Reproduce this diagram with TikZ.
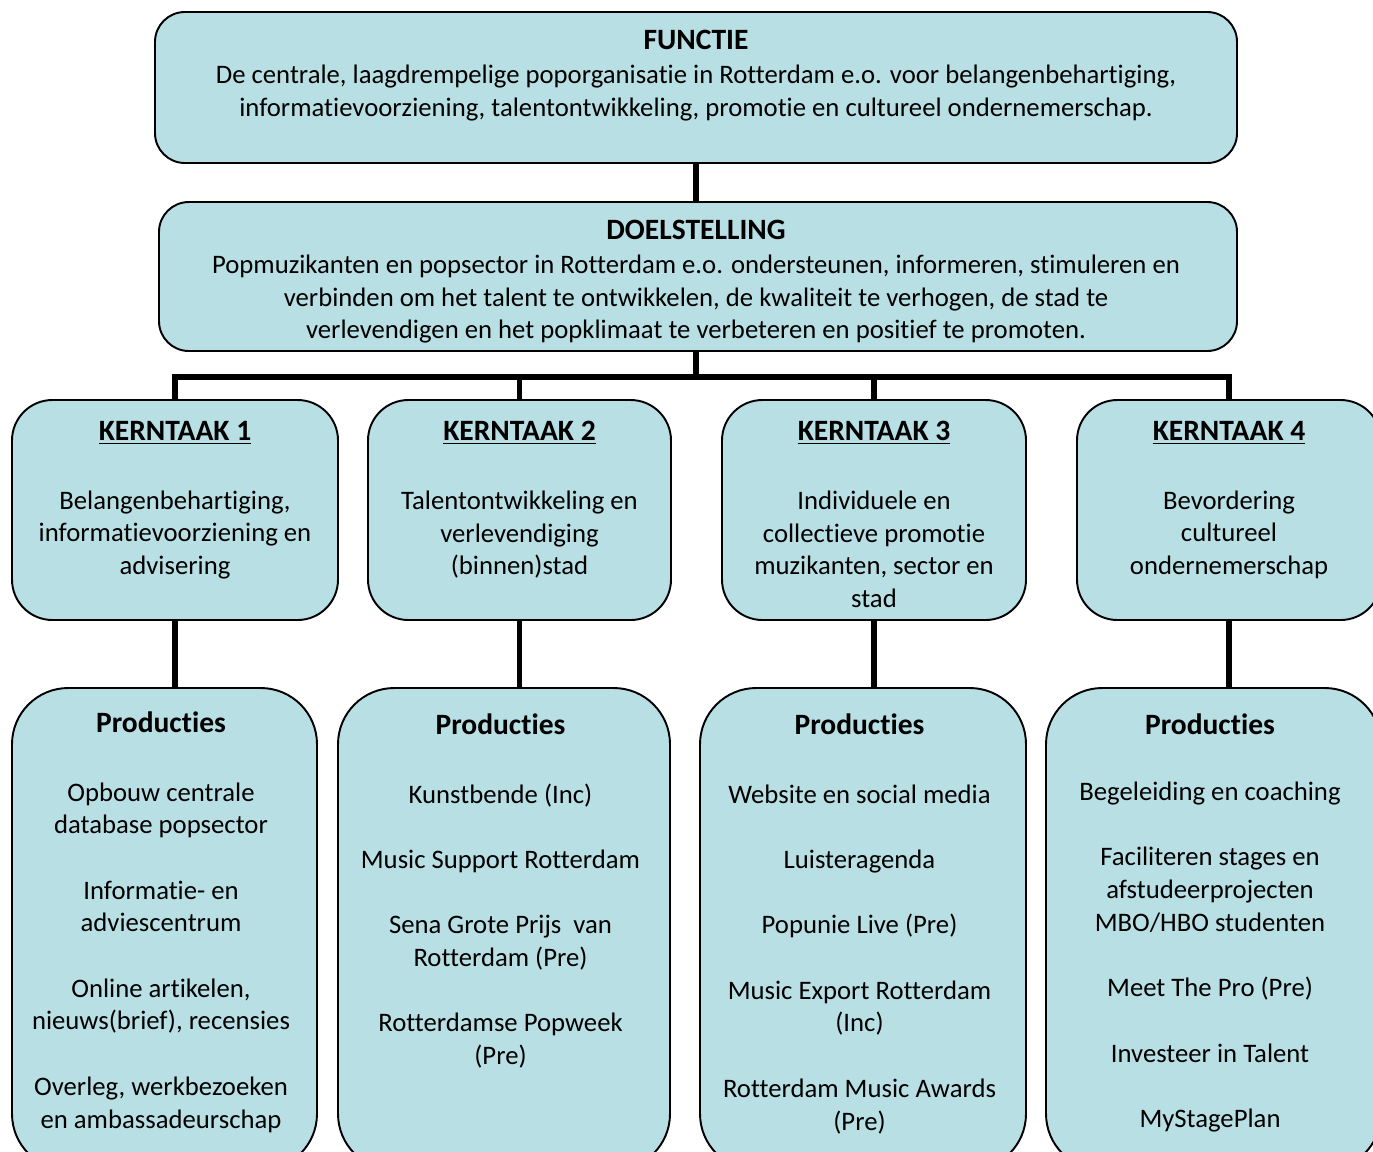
\documentclass[tikz,border=0pt]{standalone}
\usepackage{fontspec}
\setmainfont{Carlito}[RawFeature={-liga;-clig;-calt;-rlig;-dlig}]
\usetikzlibrary{positioning}
\definecolor{boxfill}{RGB}{184,223,228}
\newcommand{\bodyfont}{\fontsize{15.2}{18.6}\selectfont}
\newcommand{\kop}[1]{{\fontsize{16.8}{18.6}\selectfont\bfseries #1}}
\newcommand{\gap}{\\[18.6pt]}

\begin{document}
\begin{tikzpicture}[
    box/.style={draw=black,line width=1.1pt,fill=boxfill,inner sep=0pt},
    topbox/.style={box,rounded corners=17pt},
    taakbox/.style={box,rounded corners=23pt,minimum width=6.08cm,minimum height=4.4cm},
    prodbox/.style={box,rounded corners=32pt,minimum height=9.64cm},
    txt/.style={align=center,inner sep=0pt,font=\bodyfont},
    link/.style={line width=3.4pt,black}
  ]
  \useasboundingbox (0,0) rectangle (27.46,-23.02);

  % top
  \node[topbox,minimum width=21.64cm,minimum height=3.02cm] (functie) at (13.92,-1.75) {};
  \node[topbox,minimum width=21.56cm,minimum height=2.98cm] (doel) at (13.96,-5.53) {};
  \node[txt,below=0.38cm of functie.north] (functietxt) {\kop{FUNCTIE}\\[0.8pt]
    De centrale, laagdrempelige poporganisatie in Rotterdam e.o. voor belangenbehartiging,\\
    informatievoorziening, talentontwikkeling, promotie en cultureel ondernemerschap.};
  \node[txt,below=0.38cm of doel.north,xshift=-0.04cm] (doeltxt) {\kop{DOELSTELLING}\\[0.5pt]
    Popmuzikanten en popsector in Rotterdam e.o. ondersteunen, informeren, stimuleren en\\
    verbinden om het talent te ontwikkelen, de kwaliteit te verhogen, de stad te\\
    verlevendigen en het popklimaat te verbeteren en positief te promoten.};

  % kerntaken
  \node[taakbox,minimum width=6.52cm] (k1) at (3.50,-10.2) {};
  \node[taakbox,minimum width=6.06cm] (k2) at (10.39,-10.2) {};
  \node[taakbox] (k3) at (17.48,-10.2) {};
  \node[taakbox] (k4) at (24.58,-10.2) {};
  \node[txt,below=0.44cm of k1.north] (k1txt) {\kop{\underline{KERNTAAK 1}}\\[20.5pt]
    Belangenbehartiging,\\informatievoorziening en\\advisering};
  \node[txt,below=0.44cm of k2.north] (k2txt) {\kop{\underline{KERNTAAK 2}}\\[20.5pt]
    Talentontwikkeling en\\verlevendiging\\(binnen)stad};
  \node[txt,below=0.44cm of k3.north] (k3txt) {\kop{\underline{KERNTAAK 3}}\\[20.5pt]
    Individuele en\\collectieve promotie\\muzikanten, sector en\\stad};
  \node[txt,below=0.44cm of k4.north] (k4txt) {\kop{\underline{KERNTAAK 4}}\\[20.5pt]
    Bevordering\\cultureel\\ondernemerschap};

  % producties
  \node[prodbox,minimum width=6.10cm] (p1) at (3.29,-18.58) {};
  \node[prodbox,minimum width=6.64cm] (p2) at (10.08,-18.58) {};
  \node[prodbox,minimum width=6.52cm] (p3) at (17.26,-18.58) {};
  \node[prodbox,minimum width=6.70cm] (p4) at (24.27,-18.58) {};
  \node[txt,below=0.49cm of p1.north,xshift=-0.07cm] (p1txt) {\kop{Producties}\\[20.4pt]
    Opbouw centrale\\database popsector\gap
    Informatie- en\\adviescentrum\gap
    Online artikelen,\\nieuws(brief), recensies\gap
    Overleg, werkbezoeken\\en ambassadeurschap};
  \node[txt,below=0.53cm of p2.north,xshift=-0.07cm] (p2txt) {\kop{Producties}\\[20.4pt]
    Kunstbende (Inc)\gap
    Music Support Rotterdam\gap
    Sena Grote Prijs\ \ van\\Rotterdam (Pre)\gap
    Rotterdamse Popweek\\(Pre)};
  \node[txt,below=0.53cm of p3.north,xshift=-0.07cm] (p3txt) {\kop{Producties}\\[20.4pt]
    Website en social media\gap
    Luisteragenda\gap
    Popunie Live (Pre)\gap
    Music Export Rotterdam\\(Inc)\gap
    Rotterdam Music Awards\\(Pre)};
  \node[txt,below=0.53cm of p4.north,xshift=-0.07cm] (p4txt) {\kop{Producties}\\[18.9pt]
    Begeleiding en coaching\gap
    Faciliteren stages en\\afstudeerprojecten\\MBO/HBO studenten\gap
    Meet The Pro (Pre)\gap
    Investeer in Talent\gap
    MyStagePlan};

  % connectors
  \coordinate (bus) at (13.92,-7.54);
  \draw[link] (functie.south) -- (functie.south |- doel.north);
  \draw[link] (bus |- doel.south) -- (bus);
  \draw[link] (k1.north) |- (bus) -| (k4.north);
  \draw[link] (k2.north) -- (k2.north |- bus);
  \draw[link] (k3.north) -- (k3.north |- bus);
  \draw[link] (k1.south) -- (k1.south |- p1.north);
  \draw[link] (k2.south) -- (k2.south |- p2.north);
  \draw[link] (k3.south) -- (k3.south |- p3.north);
  \draw[link] (k4.south) -- (k4.south |- p4.north);
\end{tikzpicture}
\end{document}
